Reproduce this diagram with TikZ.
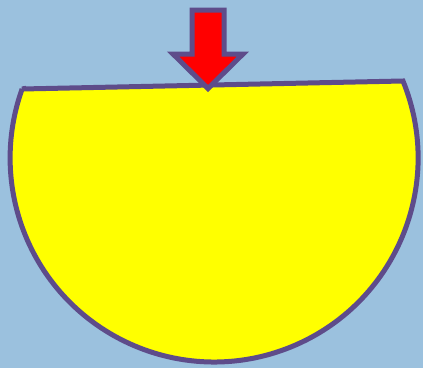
\documentclass[tikz,border=0pt]{standalone}
\definecolor{bgblue}{RGB}{155,193,222}
\definecolor{edgepurple}{RGB}{94,76,138}
\definecolor{fillyellow}{RGB}{255,255,0}
\definecolor{fillred}{RGB}{255,0,0}
\tikzset{
  outline/.style={draw=edgepurple, line width=5pt, line join=miter},
}
\begin{document}
\begin{tikzpicture}[x=1pt,y=1pt]
\fill[bgblue] (0,0) rectangle (423,368);
\useasboundingbox (0,0) rectangle (423,368);
% yellow segment
\path[outline, fill=fillyellow] (22,279) -- (403,287)
  arc[start angle=22.17, end angle=-199.77, radius=204] -- cycle;
% red arrow
\path[outline, fill=fillred] (192,358) -- (224,358) -- (224,314) -- (243,314)
  -- (208,279.5) -- (173,314) -- (192,314) -- cycle;
\end{tikzpicture}
\end{document}
